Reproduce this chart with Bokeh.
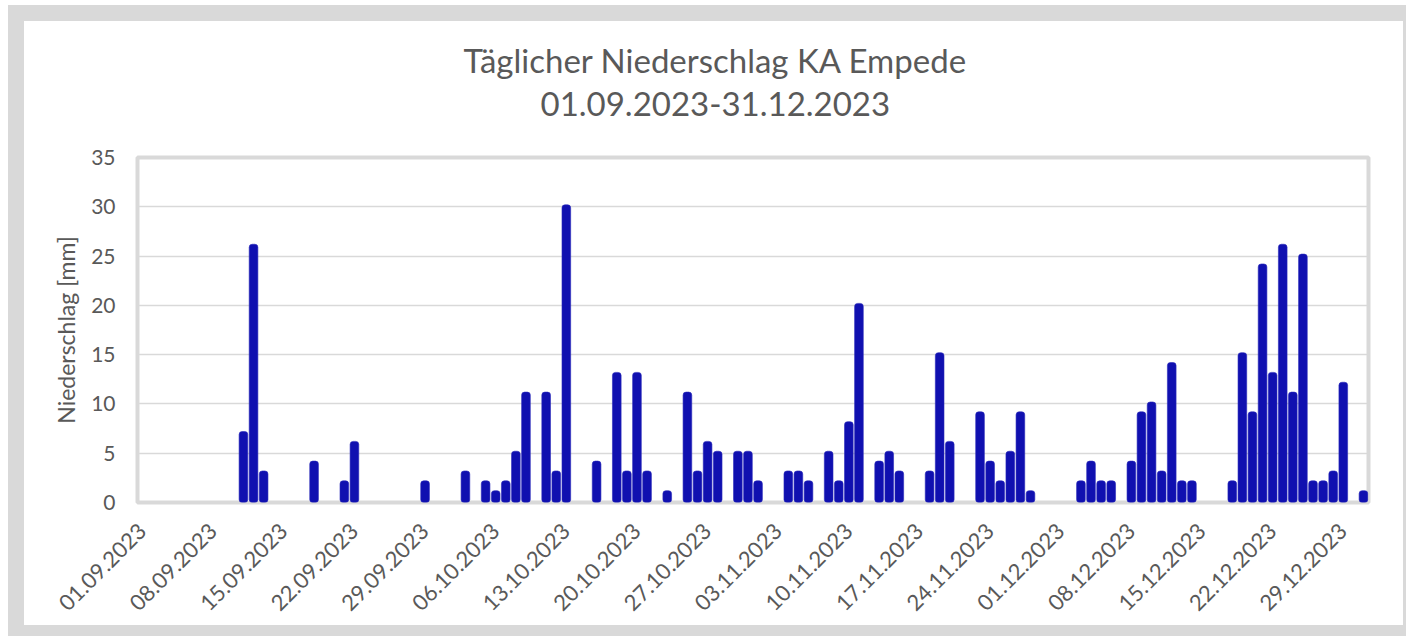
import math
from bokeh.plotting import figure
from bokeh.models import FixedTicker, Title
from bokeh.embed import file_html
from bokeh.resources import INLINE

# Daily precipitation [mm], 01.09.2023 - 31.12.2023
sep = [0, 0, 0, 0, 0, 0, 0, 0, 0, 0,
       7.2, 26.2, 3.2, 0, 0, 0, 0, 4.2, 0, 0,
       2.2, 6.2, 0, 0, 0, 0, 0, 0, 2.2, 0]
oct_ = [0, 0, 3.2, 0, 2.2, 1.2, 2.2, 5.2, 11.2, 0,
        11.2, 3.2, 30.2, 0, 0, 4.2, 0, 13.2, 3.2, 13.2,
        3.2, 0, 1.2, 0, 11.2, 3.2, 6.2, 5.2, 0, 5.2, 5.2]
nov = [2.2, 0, 0, 3.2, 3.2, 2.2, 0, 5.2, 2.2, 8.2,
       20.2, 0, 4.2, 5.2, 3.2, 0, 0, 3.2, 15.2, 6.2,
       0, 0, 9.2, 4.2, 2.2, 5.2, 9.2, 1.2, 0, 0]
dec = [0, 0, 2.2, 4.2, 2.2, 2.2, 0, 4.2, 9.2, 10.2,
       3.2, 14.2, 2.2, 2.2, 0, 0, 0, 2.2, 15.2, 9.2,
       24.2, 13.2, 26.2, 11.2, 25.2, 2.2, 2.2, 3.2, 12.2, 0, 1.2]

values = sep + oct_ + nov + dec
days = list(range(len(values)))

tick_labels = ["01.09.2023", "08.09.2023", "15.09.2023", "22.09.2023", "29.09.2023",
               "06.10.2023", "13.10.2023", "20.10.2023", "27.10.2023", "03.11.2023",
               "10.11.2023", "17.11.2023", "24.11.2023", "01.12.2023", "08.12.2023",
               "15.12.2023", "22.12.2023", "29.12.2023"]
tick_pos = [7 * i for i in range(len(tick_labels))]

y_ticks = [0, 5, 10, 15, 20, 25, 30, 35]

title_1 = "Täglicher Niederschlag KA Empede"
title_2 = "01.09.2023-31.12.2023"

TEXT = "#595959"
GRAY = "#D9D9D9"
FONT = "Lato"

p = figure(width=1406, height=636, output_backend="svg", toolbar_location=None,
           x_range=(-0.5, 121.5), y_range=(0, 35),
           min_border_left=137, min_border_right=38, min_border_bottom=134,
           min_border_top=157)

bx = [d for d, v in zip(days, values) if v > 0]
by = [v for v in values if v > 0]
p.vbar(x=bx, top=by, width=0.86, bottom=0, fill_color="#1010B0",
       line_color="#2A2ABA", line_width=0.6, border_radius=3)

# titles: spacer nearest to frame, then line 2, then line 1 on top
spacer = Title(text=" ", text_font_size="10px", standoff=24)
t2 = Title(text=title_2, align="left", offset=403, text_font=FONT,
           text_font_size="33px", text_color=TEXT, text_font_style="normal",
           standoff=10)
t1 = Title(text=title_1, align="left", offset=326, text_font=FONT,
           text_font_size="33px", text_color=TEXT, text_font_style="normal",
           standoff=10)
p.add_layout(spacer, "above")
p.add_layout(t2, "above")
p.add_layout(t1, "above")

# axes
p.xaxis.ticker = FixedTicker(ticks=tick_pos)
p.xaxis.major_label_overrides = {pos: lab for pos, lab in zip(tick_pos, tick_labels)}
p.xaxis.major_label_orientation = math.pi / 4
p.xaxis.major_label_text_font = FONT
p.xaxis.major_label_text_font_size = "22px"
p.xaxis.major_label_text_color = TEXT
p.xaxis.major_label_standoff = 19
p.xaxis.axis_line_color = None
p.xaxis.major_tick_line_color = None
p.xaxis.minor_tick_line_color = None

p.yaxis.ticker = FixedTicker(ticks=y_ticks)
p.yaxis.axis_label = "Niederschlag [mm]"
p.yaxis.axis_label_text_font = FONT
p.yaxis.axis_label_text_font_size = "23px"
p.yaxis.axis_label_text_font_style = "normal"
p.yaxis.axis_label_text_color = TEXT
p.yaxis.axis_label_standoff = 8
p.yaxis.major_label_text_font = FONT
p.yaxis.major_label_text_font_size = "21px"
p.yaxis.major_label_text_color = TEXT
p.yaxis.major_label_standoff = 16
p.yaxis.axis_line_color = None
p.yaxis.major_tick_line_color = None
p.yaxis.minor_tick_line_color = None

p.xgrid.grid_line_color = None
p.ygrid.grid_line_color = GRAY
p.ygrid.grid_line_width = 1.6

p.outline_line_color = GRAY
p.outline_line_width = 4
p.background_fill_color = "white"
p.border_fill_color = None

# outer chart frame (gray band) drawn as the figure's CSS background
p.styles = {
    "background": ("linear-gradient(#ffffff,#ffffff) 24px 21px / 1379px 604px no-repeat, "
                   "linear-gradient(#D9D9D9,#D9D9D9) 8px 5px / 1411px 640px no-repeat, "
                   "#ffffff")
}

open("out.html", "w").write(file_html(p, INLINE))
